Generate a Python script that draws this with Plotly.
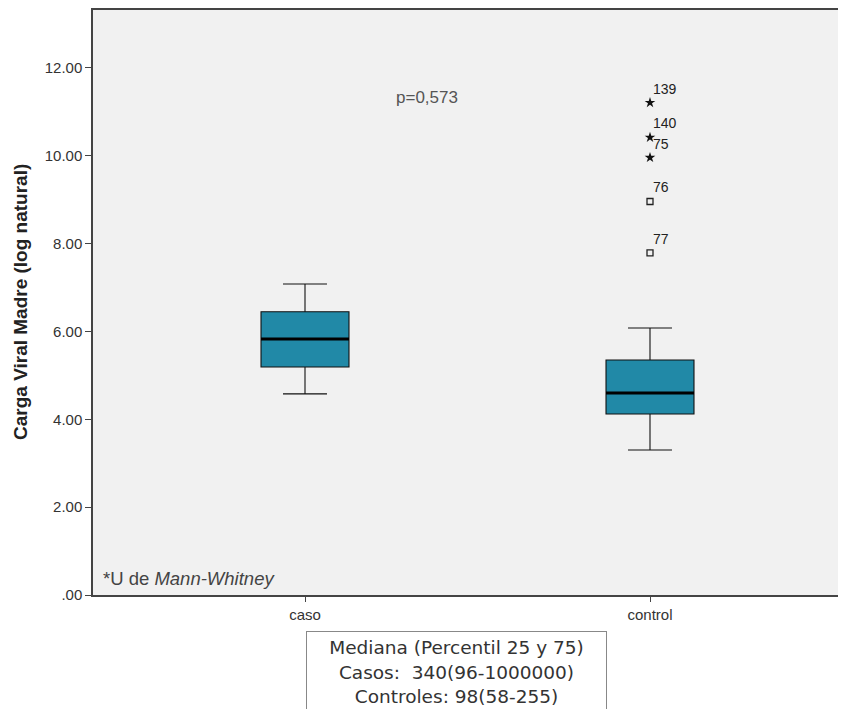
import plotly.graph_objects as go

# ---- data ----
groups = ["caso", "control"]
q1 = [5.19, 4.12]
median = [5.83, 4.60]
q3 = [6.45, 5.35]
lower_fence = [4.58, 3.30]
upper_fence = [7.08, 6.08]

extreme_vals = [11.21, 10.42, 9.96]      # stars
extreme_ids = ["139", "140", "75"]
outlier_vals = [8.96, 7.79]              # circles
outlier_ids = ["76", "77"]

y_tickvals = [0, 2, 4, 6, 8, 10, 12]
y_ticktext = [".00", "2.00", "4.00", "6.00", "8.00", "10.00", "12.00"]

box_color = "#2189a7"

# page body has an 8px margin: figure is shifted by (8, 8) on screen
OFF = 8
FIG_W, FIG_H = 846 - 2 * OFF, 717 - 2 * OFF   # fit inside the body, no scrollbars
PL, PT = 93, 10                               # plot area top-left on screen
PR = OFF + FIG_W                              # plot area right edge on screen
PW, PH = PR - PL, 585
CAT_PX = 345                                  # pixels per category step
CASO_X = 305                                  # screen x of first category
X_RANGE = [-(CASO_X - PL) / CAT_PX, (PR - CASO_X) / CAT_PX]


def px(x):
    return (x - PL) / PW


def py(y):
    return (PT + PH - y) / PH


fig = go.Figure()
fig.add_trace(go.Box(
    x=groups, q1=q1, median=median, q3=q3,
    lowerfence=lower_fence, upperfence=upper_fence,
    fillcolor=box_color, line=dict(color="#111111", width=1.1),
    width=0.255, whiskerwidth=0.5, boxpoints=False, showlegend=False,
    hoverinfo="skip",
))
# thick median lines (degenerate boxes)
fig.add_trace(go.Box(
    x=groups, q1=median, median=median, q3=median,
    lowerfence=median, upperfence=median,
    fillcolor="rgba(0,0,0,0)", line=dict(color="#000000", width=3),
    width=0.255, whiskerwidth=0, boxpoints=False, showlegend=False,
    hoverinfo="skip",
))

fig.add_trace(go.Scatter(
    x=["control"] * len(extreme_vals), y=extreme_vals, mode="markers",
    marker=dict(symbol="star", size=8, color="#111111",
                line=dict(color="#111111", width=0)),
    showlegend=False, hoverinfo="skip",
))
fig.add_trace(go.Scatter(
    x=["control"] * len(outlier_vals), y=outlier_vals, mode="markers",
    marker=dict(symbol="square-open", size=6, color="#222222",
                line=dict(color="#222222", width=1.3)),
    showlegend=False, hoverinfo="skip",
))

annotations = []
for v, lab in zip(extreme_vals + outlier_vals, extreme_ids + outlier_ids):
    annotations.append(dict(
        x="control", y=v, text=lab, showarrow=False, xanchor="left", yanchor="bottom",
        xshift=1, yshift=4, font=dict(family="Liberation Sans", size=14, color="#222222"),
    ))

annotations.append(dict(
    x=px(427), y=py(97), xref="paper", yref="paper",
    text="p=0,573", showarrow=False, xanchor="center", yanchor="middle",
    font=dict(family="Liberation Sans", size=17, color="#555555"),
))
annotations.append(dict(
    x=px(101), y=py(578), xref="paper", yref="paper",
    text="*U de <i>Mann-Whitney</i>", showarrow=False, xanchor="left", yanchor="middle",
    font=dict(family="Liberation Sans", size=18.5, color="#444444"),
))
annotations.append(dict(
    x=px(20), y=py(302), xref="paper", yref="paper",
    text="<b>Carga Viral Madre (log natural)</b>", textangle=-90, showarrow=False,
    xanchor="center", yanchor="middle",
    font=dict(family="Liberation Sans", size=19, color="#222222"),
))
annotations.append(dict(
    x=px(456), y=py(631), xref="paper", yref="paper",
    text="Mediana (Percentil 25 y 75)<br>Casos:  340(96-1000000)<br>Controles: 98(58-255)",
    showarrow=False, xanchor="center", yanchor="top", align="center",
    width=297, height=78, bordercolor="#888888", borderwidth=1, borderpad=1,
    bgcolor="#ffffff",
    font=dict(family="DejaVu Sans", size=18.5, color="#333333"),
))

fig.update_layout(
    width=FIG_W, height=FIG_H,
    margin=dict(l=PL - OFF, r=0, t=PT - OFF, b=FIG_H - (PT + PH - OFF), autoexpand=False),
    paper_bgcolor="#ffffff", plot_bgcolor="#f1f1f1",
    annotations=annotations,
    xaxis=dict(
        type="category", range=X_RANGE, showgrid=False, zeroline=False,
        showline=True, linecolor="#444444", linewidth=1.5, mirror=True,
        ticks="outside", ticklen=5, tickcolor="#444444",
        tickfont=dict(family="Liberation Sans", size=15, color="#333333"),
    ),
    yaxis=dict(
        range=[0, 13.32], tickvals=y_tickvals, ticktext=y_ticktext,
        showgrid=False, zeroline=False, showline=True, linecolor="#444444",
        linewidth=1.5, ticks="outside", ticklen=6, tickcolor="#444444",
        tickfont=dict(family="Liberation Sans", size=15, color="#333333"),
    ),
)

fig.write_html("out.html")
